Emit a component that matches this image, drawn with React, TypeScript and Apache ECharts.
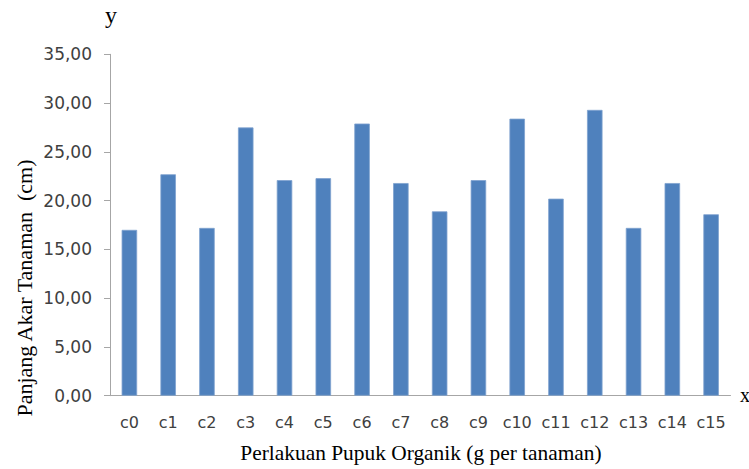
import React, { useEffect, useRef } from "react";
import * as echarts from "echarts";

const categories = ["c0", "c1", "c2", "c3", "c4", "c5", "c6", "c7", "c8", "c9", "c10", "c11", "c12", "c13", "c14", "c15"];
const values = [17.0, 22.7, 17.2, 27.5, 22.1, 22.3, 27.9, 21.8, 18.9, 22.1, 28.4, 20.2, 29.3, 17.2, 21.8, 18.6];
const yTitle = "Panjang Akar Tanaman  (cm)";
const xTitle = "Perlakuan Pupuk Organik (g per tanaman)";

export default function App() {
  const ref = useRef<HTMLDivElement>(null);
  useEffect(() => {
    if (!ref.current) return;
    const chart = echarts.init(ref.current, null, { renderer: "svg" });
    chart.setOption({
      animation: false,
      backgroundColor: "#ffffff",
      grid: { left: 110, right: 18.5, top: 54.3, bottom: 73.3, containLabel: false },
      xAxis: {
        type: "category",
        data: categories,
        axisLine: { lineStyle: { color: "#A6A6A6", width: 1 } },
        axisTick: { show: false },
        axisLabel: { interval: 0, fontFamily: "DejaVu Sans", fontSize: 16, color: "#404040", margin: 19 },
      },
      yAxis: {
        type: "value",
        min: 0,
        max: 35,
        interval: 5,
        axisLine: { show: true, lineStyle: { color: "#A6A6A6", width: 1 } },
        axisTick: { show: true, length: 6, lineStyle: { color: "#A6A6A6" } },
        splitLine: { show: false },
        axisLabel: {
          fontFamily: "DejaVu Sans",
          fontSize: 17,
          color: "#404040",
          margin: 18,
          formatter: (v: number) => v.toFixed(2).replace(".", ","),
        },
      },
      series: [
        {
          type: "bar",
          data: values,
          barWidth: 15.5,
          itemStyle: { color: "#4F81BD", borderColor: "#7FA2CF", borderWidth: 0.8 },
        },
      ],
      graphic: [
        {
          type: "text",
          x: 111,
          y: 15,
          style: { text: "y", font: "24px 'Liberation Serif'", fill: "#000", align: "center", verticalAlign: "middle" },
        },
        {
          type: "text",
          x: 740,
          y: 395,
          style: { text: "x", font: "20px 'Liberation Serif'", fill: "#000", align: "left", verticalAlign: "middle" },
        },
        {
          type: "text",
          x: 421,
          y: 453,
          style: { text: xTitle, font: "21.4px 'Liberation Serif'", fill: "#000", align: "center", verticalAlign: "middle" },
        },
        {
          type: "text",
          x: 24,
          y: 288,
          rotation: Math.PI / 2,
          style: { text: yTitle, font: "22px 'Liberation Serif'", fill: "#000", align: "center", verticalAlign: "middle" },
        },
      ],
    });
    return () => chart.dispose();
  }, []);
  return <div ref={ref} style={{ position: "absolute", left: 0, top: 0, width: 749, height: 469 }} />;
}
